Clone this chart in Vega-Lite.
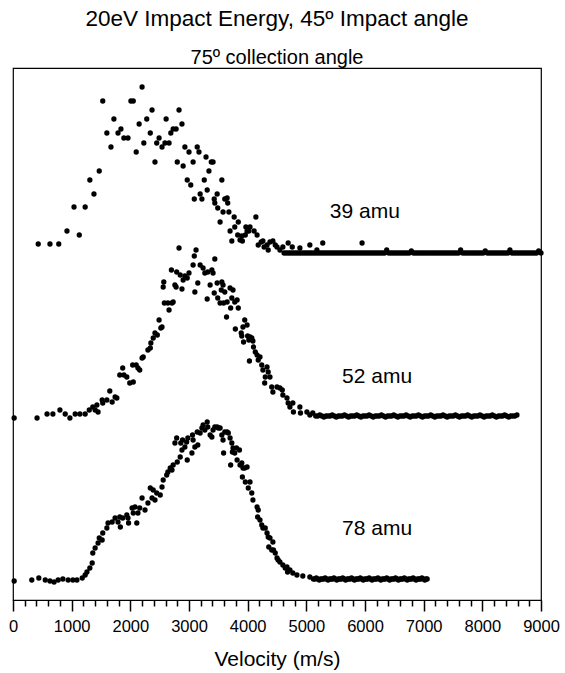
{
"$schema":"https://vega.github.io/schema/vega-lite/v6.json",
"width":528,"height":532,
"autosize":{"type":"none"},
"padding":{"left":13,"top":68,"right":24,"bottom":73},
"background":"white",
"config":{"view":{"stroke":"black","strokeWidth":1.2},"font":"Liberation Sans"},
"title":{"text":"20eV Impact Energy, 45º Impact angle","subtitle":"75º collection angle","font":"Liberation Sans","subtitleFont":"Liberation Sans","fontSize":22.5,"subtitleFontSize":20,"fontWeight":"normal","color":"black","subtitleColor":"black","anchor":"middle","offset":0,"subtitlePadding":18},
"datasets":{
"pts":[
{"m":39,"v":430,"s":356},{"m":39,"v":630,"s":356},{"m":39,"v":780,"s":356},{"m":39,"v":920,"s":369},{"m":39,"v":1040,"s":393},{"m":39,"v":1130,"s":365},{"m":39,"v":1230,"s":393},{"m":39,"v":1310,"s":420},{"m":39,"v":1380,"s":406},{"m":39,"v":1470,"s":429},{"m":39,"v":1530,"s":499},{"m":39,"v":1600,"s":467},{"m":39,"v":1670,"s":453},{"m":39,"v":1720,"s":481},{"m":39,"v":1790,"s":467},{"m":39,"v":1840,"s":471},{"m":39,"v":1890,"s":462},{"m":39,"v":1960,"s":462},{"m":39,"v":2010,"s":499},{"m":39,"v":2050,"s":499},{"m":39,"v":2100,"s":448},{"m":39,"v":2150,"s":476},{"m":39,"v":2200,"s":513},{"m":39,"v":2230,"s":457},{"m":39,"v":2280,"s":481},{"m":39,"v":2340,"s":467},{"m":39,"v":2370,"s":490},{"m":39,"v":2420,"s":438},{"m":39,"v":2450,"s":457},{"m":39,"v":2490,"s":462},{"m":39,"v":2540,"s":453},{"m":39,"v":2590,"s":457},{"m":39,"v":2610,"s":481},{"m":39,"v":2660,"s":457},{"m":39,"v":2690,"s":467},{"m":39,"v":2730,"s":471},{"m":39,"v":2780,"s":471},{"m":39,"v":2800,"s":438},{"m":39,"v":2830,"s":490},{"m":39,"v":2880,"s":476},{"m":39,"v":2900,"s":434},{"m":39,"v":2930,"s":453},{"m":39,"v":2970,"s":420},{"m":39,"v":3000,"s":448},{"m":39,"v":3030,"s":415},{"m":39,"v":3070,"s":438},{"m":39,"v":3090,"s":401},{"m":39,"v":3140,"s":453},{"m":39,"v":3170,"s":448},{"m":39,"v":3190,"s":406},{"m":39,"v":3220,"s":401},{"m":39,"v":3260,"s":420},{"m":39,"v":3290,"s":443},{"m":39,"v":3310,"s":410},{"m":39,"v":3340,"s":429},{"m":39,"v":3380,"s":438},{"m":39,"v":3410,"s":438},{"m":39,"v":3430,"s":401},{"m":39,"v":3440,"s":397},{"m":39,"v":3480,"s":406},{"m":39,"v":3490,"s":392},{"m":39,"v":3530,"s":378},{"m":39,"v":3560,"s":420},{"m":39,"v":3580,"s":388},{"m":39,"v":3610,"s":401},{"m":39,"v":3650,"s":402},{"m":39,"v":3660,"s":397},{"m":39,"v":3680,"s":388},{"m":39,"v":3700,"s":369},{"m":39,"v":3730,"s":359},{"m":39,"v":3770,"s":383},{"m":39,"v":3780,"s":373},{"m":39,"v":3830,"s":365},{"m":39,"v":3840,"s":378},{"m":39,"v":3870,"s":360},{"m":39,"v":3900,"s":364},{"m":39,"v":3910,"s":359},{"m":39,"v":3960,"s":365},{"m":39,"v":3970,"s":373},{"m":39,"v":3990,"s":369},{"m":39,"v":4020,"s":369},{"m":39,"v":4040,"s":373},{"m":39,"v":4110,"s":369},{"m":39,"v":4140,"s":383},{"m":39,"v":4160,"s":365},{"m":39,"v":4180,"s":355},{"m":39,"v":4230,"s":358},{"m":39,"v":4260,"s":359},{"m":39,"v":4280,"s":353},{"m":39,"v":4330,"s":355},{"m":39,"v":4350,"s":350},{"m":39,"v":4380,"s":358},{"m":39,"v":4430,"s":359},{"m":39,"v":4470,"s":355},{"m":39,"v":4500,"s":353},{"m":39,"v":4550,"s":350},{"m":39,"v":4600,"s":353},{"m":39,"v":4690,"s":357},{"m":39,"v":4760,"s":353},{"m":39,"v":4890,"s":352},{"m":39,"v":5060,"s":355},{"m":39,"v":5180,"s":350},{"m":39,"v":5280,"s":357},{"m":39,"v":5950,"s":357},
{"m":39,"v":4620,"s":347},{"m":39,"v":4655,"s":347},{"m":39,"v":4690,"s":347},{"m":39,"v":4725,"s":347},{"m":39,"v":4760,"s":347},{"m":39,"v":4795,"s":347},{"m":39,"v":4830,"s":347},{"m":39,"v":4865,"s":347},{"m":39,"v":4900,"s":347},{"m":39,"v":4935,"s":347},{"m":39,"v":4970,"s":347},{"m":39,"v":5005,"s":347},{"m":39,"v":5040,"s":347},{"m":39,"v":5075,"s":347},{"m":39,"v":5110,"s":347},{"m":39,"v":5145,"s":347},{"m":39,"v":5180,"s":347},{"m":39,"v":5215,"s":347},{"m":39,"v":5250,"s":347},{"m":39,"v":5285,"s":347},{"m":39,"v":5320,"s":347},{"m":39,"v":5355,"s":347},{"m":39,"v":5390,"s":347},{"m":39,"v":5425,"s":347},{"m":39,"v":5460,"s":347},{"m":39,"v":5495,"s":347},{"m":39,"v":5530,"s":347},{"m":39,"v":5565,"s":347},{"m":39,"v":5600,"s":347},{"m":39,"v":5635,"s":347},{"m":39,"v":5670,"s":347},{"m":39,"v":5705,"s":347},{"m":39,"v":5740,"s":347},{"m":39,"v":5775,"s":347},{"m":39,"v":5810,"s":347},{"m":39,"v":5845,"s":347},{"m":39,"v":5880,"s":347},{"m":39,"v":5915,"s":347},{"m":39,"v":5950,"s":347},{"m":39,"v":5985,"s":347},{"m":39,"v":6020,"s":347},{"m":39,"v":6055,"s":347},{"m":39,"v":6090,"s":347},{"m":39,"v":6125,"s":347},{"m":39,"v":6160,"s":347},{"m":39,"v":6195,"s":347},{"m":39,"v":6230,"s":347},{"m":39,"v":6265,"s":347},{"m":39,"v":6300,"s":347},{"m":39,"v":6335,"s":347},{"m":39,"v":6370,"s":350},{"m":39,"v":6405,"s":347},{"m":39,"v":6440,"s":347},{"m":39,"v":6475,"s":347},{"m":39,"v":6510,"s":347},{"m":39,"v":6545,"s":347},{"m":39,"v":6580,"s":347},{"m":39,"v":6615,"s":347},{"m":39,"v":6650,"s":347},{"m":39,"v":6685,"s":347},{"m":39,"v":6720,"s":347},{"m":39,"v":6755,"s":347},{"m":39,"v":6790,"s":349},{"m":39,"v":6825,"s":347},{"m":39,"v":6860,"s":347},{"m":39,"v":6895,"s":347},{"m":39,"v":6930,"s":347},{"m":39,"v":6965,"s":347},{"m":39,"v":7000,"s":347},{"m":39,"v":7035,"s":347},{"m":39,"v":7070,"s":347},{"m":39,"v":7105,"s":347},{"m":39,"v":7140,"s":347},{"m":39,"v":7175,"s":347},{"m":39,"v":7210,"s":347},{"m":39,"v":7245,"s":347},{"m":39,"v":7280,"s":347},{"m":39,"v":7315,"s":347},{"m":39,"v":7350,"s":347},{"m":39,"v":7385,"s":347},{"m":39,"v":7420,"s":347},{"m":39,"v":7455,"s":347},{"m":39,"v":7490,"s":347},{"m":39,"v":7525,"s":347},{"m":39,"v":7560,"s":347},{"m":39,"v":7595,"s":347},{"m":39,"v":7630,"s":350},{"m":39,"v":7665,"s":347},{"m":39,"v":7700,"s":347},{"m":39,"v":7735,"s":347},{"m":39,"v":7770,"s":347},{"m":39,"v":7805,"s":347},{"m":39,"v":7840,"s":347},{"m":39,"v":7875,"s":347},{"m":39,"v":7910,"s":347},{"m":39,"v":7945,"s":347},{"m":39,"v":7980,"s":347},{"m":39,"v":8015,"s":347},{"m":39,"v":8050,"s":349},{"m":39,"v":8085,"s":347},{"m":39,"v":8120,"s":347},{"m":39,"v":8155,"s":347},{"m":39,"v":8190,"s":347},{"m":39,"v":8225,"s":347},{"m":39,"v":8260,"s":347},{"m":39,"v":8295,"s":347},{"m":39,"v":8330,"s":347},{"m":39,"v":8365,"s":347},{"m":39,"v":8400,"s":347},{"m":39,"v":8435,"s":347},{"m":39,"v":8470,"s":350},{"m":39,"v":8505,"s":347},{"m":39,"v":8540,"s":347},{"m":39,"v":8575,"s":347},{"m":39,"v":8610,"s":347},{"m":39,"v":8645,"s":347},{"m":39,"v":8680,"s":347},{"m":39,"v":8715,"s":347},{"m":39,"v":8750,"s":347},{"m":39,"v":8785,"s":347},{"m":39,"v":8820,"s":347},{"m":39,"v":8855,"s":347},{"m":39,"v":8890,"s":347},{"m":39,"v":8925,"s":347},{"m":39,"v":8960,"s":349},{"m":39,"v":9000,"s":347},
{"m":52,"v":20,"s":182},{"m":52,"v":410,"s":182},{"m":52,"v":580,"s":186},{"m":52,"v":680,"s":186},{"m":52,"v":800,"s":190},{"m":52,"v":890,"s":186},{"m":52,"v":970,"s":182},{"m":52,"v":1060,"s":186},{"m":52,"v":1140,"s":186},{"m":52,"v":1230,"s":186},{"m":52,"v":1300,"s":190},{"m":52,"v":1360,"s":193},{"m":52,"v":1400,"s":190},{"m":52,"v":1430,"s":195},{"m":52,"v":1450,"s":188},{"m":52,"v":1520,"s":200},{"m":52,"v":1530,"s":197},{"m":52,"v":1600,"s":200},{"m":52,"v":1650,"s":209},{"m":52,"v":1690,"s":198},{"m":52,"v":1740,"s":203},{"m":52,"v":1770,"s":202},{"m":52,"v":1820,"s":225},{"m":52,"v":1870,"s":232},{"m":52,"v":1890,"s":225},{"m":52,"v":1940,"s":223},{"m":52,"v":1990,"s":217},{"m":52,"v":2050,"s":218},{"m":52,"v":2040,"s":235},{"m":52,"v":2100,"s":235},{"m":52,"v":2130,"s":232},{"m":52,"v":2160,"s":230},{"m":52,"v":2200,"s":242},{"m":52,"v":2220,"s":243},{"m":52,"v":2300,"s":250},{"m":52,"v":2340,"s":252},{"m":52,"v":2350,"s":257},{"m":52,"v":2390,"s":262},{"m":52,"v":2420,"s":267},{"m":52,"v":2460,"s":265},{"m":52,"v":2490,"s":280},{"m":52,"v":2520,"s":272},{"m":52,"v":2540,"s":273},{"m":52,"v":2560,"s":313},{"m":52,"v":2570,"s":318},{"m":52,"v":2580,"s":297},{"m":52,"v":2640,"s":297},{"m":52,"v":2660,"s":290},{"m":52,"v":2710,"s":297},{"m":52,"v":2730,"s":298},{"m":52,"v":2700,"s":330},{"m":52,"v":2760,"s":315},{"m":52,"v":2780,"s":313},{"m":52,"v":2790,"s":328},{"m":52,"v":2830,"s":352},{"m":52,"v":2850,"s":325},{"m":52,"v":2880,"s":311},{"m":52,"v":2900,"s":320},{"m":52,"v":2930,"s":324},{"m":52,"v":2970,"s":322},{"m":52,"v":3000,"s":327},{"m":52,"v":3070,"s":335},{"m":52,"v":3090,"s":344},{"m":52,"v":3100,"s":308},{"m":52,"v":3120,"s":350},{"m":52,"v":3150,"s":317},{"m":52,"v":3190,"s":335},{"m":52,"v":3240,"s":332},{"m":52,"v":3270,"s":327},{"m":52,"v":3310,"s":301},{"m":52,"v":3320,"s":328},{"m":52,"v":3360,"s":315},{"m":52,"v":3390,"s":330},{"m":52,"v":3410,"s":327},{"m":52,"v":3430,"s":307},{"m":52,"v":3440,"s":341},{"m":52,"v":3480,"s":317},{"m":52,"v":3490,"s":302},{"m":52,"v":3530,"s":297},{"m":52,"v":3550,"s":310},{"m":52,"v":3560,"s":318},{"m":52,"v":3580,"s":315},{"m":52,"v":3590,"s":297},{"m":52,"v":3610,"s":308},{"m":52,"v":3650,"s":298},{"m":52,"v":3640,"s":283},{"m":52,"v":3700,"s":312},{"m":52,"v":3710,"s":292},{"m":52,"v":3750,"s":310},{"m":52,"v":3730,"s":302},{"m":52,"v":3780,"s":298},{"m":52,"v":3790,"s":271},{"m":52,"v":3820,"s":300},{"m":52,"v":3840,"s":292},{"m":52,"v":3890,"s":267},{"m":52,"v":3920,"s":273},{"m":52,"v":3900,"s":264},{"m":52,"v":3930,"s":258},{"m":52,"v":3950,"s":280},{"m":52,"v":3990,"s":275},{"m":52,"v":4000,"s":264},{"m":52,"v":4020,"s":260},{"m":52,"v":4030,"s":239},{"m":52,"v":4040,"s":263},{"m":52,"v":4070,"s":262},{"m":52,"v":4090,"s":259},{"m":52,"v":4100,"s":253},{"m":52,"v":4130,"s":248},{"m":52,"v":4160,"s":245},{"m":52,"v":4180,"s":240},{"m":52,"v":4210,"s":243},{"m":52,"v":4240,"s":235},{"m":52,"v":4260,"s":230},{"m":52,"v":4300,"s":223},{"m":52,"v":4290,"s":217},{"m":52,"v":4330,"s":233},{"m":52,"v":4350,"s":228},{"m":52,"v":4380,"s":223},{"m":52,"v":4410,"s":213},{"m":52,"v":4430,"s":208},{"m":52,"v":4500,"s":213},{"m":52,"v":4550,"s":212},{"m":52,"v":4590,"s":210},{"m":52,"v":4600,"s":205},{"m":52,"v":4670,"s":202},{"m":52,"v":4690,"s":197},{"m":52,"v":4720,"s":193},{"m":52,"v":4770,"s":197},{"m":52,"v":4780,"s":188},{"m":52,"v":4890,"s":193},{"m":52,"v":4900,"s":187},{"m":52,"v":5010,"s":188},{"m":52,"v":5060,"s":185},{"m":52,"v":5110,"s":187},
{"m":52,"v":5160,"s":184},{"m":52,"v":5195,"s":184},{"m":52,"v":5230,"s":185},{"m":52,"v":5265,"s":184},{"m":52,"v":5300,"s":183},{"m":52,"v":5335,"s":184},{"m":52,"v":5370,"s":184},{"m":52,"v":5405,"s":184},{"m":52,"v":5440,"s":185},{"m":52,"v":5475,"s":184},{"m":52,"v":5510,"s":183},{"m":52,"v":5545,"s":184},{"m":52,"v":5580,"s":184},{"m":52,"v":5615,"s":184},{"m":52,"v":5650,"s":185},{"m":52,"v":5685,"s":184},{"m":52,"v":5720,"s":183},{"m":52,"v":5755,"s":184},{"m":52,"v":5790,"s":184},{"m":52,"v":5825,"s":184},{"m":52,"v":5860,"s":185},{"m":52,"v":5895,"s":184},{"m":52,"v":5930,"s":183},{"m":52,"v":5965,"s":184},{"m":52,"v":6000,"s":184},{"m":52,"v":6035,"s":184},{"m":52,"v":6070,"s":185},{"m":52,"v":6105,"s":184},{"m":52,"v":6140,"s":183},{"m":52,"v":6175,"s":184},{"m":52,"v":6210,"s":184},{"m":52,"v":6245,"s":184},{"m":52,"v":6280,"s":185},{"m":52,"v":6315,"s":184},{"m":52,"v":6350,"s":183},{"m":52,"v":6385,"s":184},{"m":52,"v":6420,"s":184},{"m":52,"v":6455,"s":184},{"m":52,"v":6490,"s":185},{"m":52,"v":6525,"s":184},{"m":52,"v":6560,"s":183},{"m":52,"v":6595,"s":184},{"m":52,"v":6630,"s":184},{"m":52,"v":6665,"s":184},{"m":52,"v":6700,"s":185},{"m":52,"v":6735,"s":184},{"m":52,"v":6770,"s":183},{"m":52,"v":6805,"s":184},{"m":52,"v":6840,"s":184},{"m":52,"v":6875,"s":184},{"m":52,"v":6910,"s":185},{"m":52,"v":6945,"s":184},{"m":52,"v":6980,"s":183},{"m":52,"v":7015,"s":184},{"m":52,"v":7050,"s":184},{"m":52,"v":7085,"s":184},{"m":52,"v":7120,"s":185},{"m":52,"v":7155,"s":184},{"m":52,"v":7190,"s":183},{"m":52,"v":7225,"s":184},{"m":52,"v":7260,"s":184},{"m":52,"v":7295,"s":184},{"m":52,"v":7330,"s":185},{"m":52,"v":7365,"s":184},{"m":52,"v":7400,"s":183},{"m":52,"v":7435,"s":184},{"m":52,"v":7470,"s":184},{"m":52,"v":7505,"s":184},{"m":52,"v":7540,"s":185},{"m":52,"v":7575,"s":184},{"m":52,"v":7610,"s":183},{"m":52,"v":7645,"s":184},{"m":52,"v":7680,"s":184},{"m":52,"v":7715,"s":184},{"m":52,"v":7750,"s":185},{"m":52,"v":7785,"s":184},{"m":52,"v":7820,"s":183},{"m":52,"v":7855,"s":184},{"m":52,"v":7890,"s":184},{"m":52,"v":7925,"s":184},{"m":52,"v":7960,"s":185},{"m":52,"v":7995,"s":184},{"m":52,"v":8030,"s":183},{"m":52,"v":8065,"s":184},{"m":52,"v":8100,"s":184},{"m":52,"v":8135,"s":184},{"m":52,"v":8170,"s":185},{"m":52,"v":8205,"s":184},{"m":52,"v":8240,"s":183},{"m":52,"v":8275,"s":184},{"m":52,"v":8310,"s":184},{"m":52,"v":8345,"s":184},{"m":52,"v":8380,"s":185},{"m":52,"v":8415,"s":184},{"m":52,"v":8450,"s":183},{"m":52,"v":8485,"s":184},{"m":52,"v":8520,"s":184},{"m":52,"v":8555,"s":184},{"m":52,"v":8590,"s":185},
{"m":78,"v":20,"s":19},{"m":78,"v":320,"s":20},{"m":78,"v":440,"s":22},{"m":78,"v":550,"s":20},{"m":78,"v":630,"s":19},{"m":78,"v":700,"s":18},{"m":78,"v":770,"s":20},{"m":78,"v":850,"s":21},{"m":78,"v":940,"s":20},{"m":78,"v":1020,"s":20},{"m":78,"v":1090,"s":20},{"m":78,"v":1180,"s":22},{"m":78,"v":1230,"s":25},{"m":78,"v":1260,"s":28},{"m":78,"v":1310,"s":32},{"m":78,"v":1350,"s":37},{"m":78,"v":1360,"s":47},{"m":78,"v":1400,"s":52},{"m":78,"v":1450,"s":57},{"m":78,"v":1470,"s":62},{"m":78,"v":1520,"s":60},{"m":78,"v":1530,"s":67},{"m":78,"v":1600,"s":72},{"m":78,"v":1620,"s":77},{"m":78,"v":1690,"s":78},{"m":78,"v":1740,"s":82},{"m":78,"v":1790,"s":78},{"m":78,"v":1820,"s":83},{"m":78,"v":1830,"s":73},{"m":78,"v":1870,"s":82},{"m":78,"v":1940,"s":85},{"m":78,"v":1960,"s":82},{"m":78,"v":1970,"s":77},{"m":78,"v":2030,"s":92},{"m":78,"v":2050,"s":87},{"m":78,"v":2080,"s":93},{"m":78,"v":2110,"s":77},{"m":78,"v":2130,"s":87},{"m":78,"v":2160,"s":92},{"m":78,"v":2200,"s":102},{"m":78,"v":2250,"s":90},{"m":78,"v":2300,"s":97},{"m":78,"v":2340,"s":112},{"m":78,"v":2370,"s":102},{"m":78,"v":2390,"s":110},{"m":78,"v":2420,"s":100},{"m":78,"v":2450,"s":107},{"m":78,"v":2510,"s":105},{"m":78,"v":2540,"s":113},{"m":78,"v":2560,"s":120},{"m":78,"v":2620,"s":125},{"m":78,"v":2640,"s":128},{"m":78,"v":2680,"s":132},{"m":78,"v":2710,"s":130},{"m":78,"v":2730,"s":135},{"m":78,"v":2760,"s":157},{"m":78,"v":2800,"s":138},{"m":78,"v":2790,"s":162},{"m":78,"v":2850,"s":143},{"m":78,"v":2860,"s":157},{"m":78,"v":2880,"s":150},{"m":78,"v":2890,"s":160},{"m":78,"v":2930,"s":153},{"m":78,"v":2970,"s":140},{"m":78,"v":2960,"s":158},{"m":78,"v":2980,"s":162},{"m":78,"v":3050,"s":147},{"m":78,"v":3060,"s":165},{"m":78,"v":3070,"s":160},{"m":78,"v":3100,"s":153},{"m":78,"v":3140,"s":168},{"m":78,"v":3150,"s":155},{"m":78,"v":3190,"s":167},{"m":78,"v":3220,"s":172},{"m":78,"v":3240,"s":175},{"m":78,"v":3270,"s":170},{"m":78,"v":3310,"s":178},{"m":78,"v":3320,"s":173},{"m":78,"v":3360,"s":165},{"m":78,"v":3390,"s":163},{"m":78,"v":3410,"s":170},{"m":78,"v":3440,"s":173},{"m":78,"v":3480,"s":173},{"m":78,"v":3500,"s":172},{"m":78,"v":3530,"s":172},{"m":78,"v":3560,"s":165},{"m":78,"v":3580,"s":160},{"m":78,"v":3590,"s":147},{"m":78,"v":3610,"s":168},{"m":78,"v":3650,"s":168},{"m":78,"v":3670,"s":167},{"m":78,"v":3700,"s":162},{"m":78,"v":3710,"s":135},{"m":78,"v":3730,"s":157},{"m":78,"v":3740,"s":148},{"m":78,"v":3750,"s":152},{"m":78,"v":3780,"s":147},{"m":78,"v":3820,"s":140},{"m":78,"v":3810,"s":152},{"m":78,"v":3870,"s":135},{"m":78,"v":3860,"s":150},{"m":78,"v":3900,"s":137},{"m":78,"v":3920,"s":132},{"m":78,"v":3950,"s":132},{"m":78,"v":3990,"s":133},{"m":78,"v":3910,"s":123},{"m":78,"v":3960,"s":118},{"m":78,"v":4010,"s":112},{"m":78,"v":4040,"s":118},{"m":78,"v":4070,"s":107},{"m":78,"v":4090,"s":100},{"m":78,"v":4160,"s":93},{"m":78,"v":4180,"s":90},{"m":78,"v":4170,"s":83},{"m":78,"v":4210,"s":80},{"m":78,"v":4240,"s":75},{"m":78,"v":4260,"s":72},{"m":78,"v":4300,"s":72},{"m":78,"v":4330,"s":67},{"m":78,"v":4350,"s":63},{"m":78,"v":4380,"s":62},{"m":78,"v":4360,"s":53},{"m":78,"v":4410,"s":50},{"m":78,"v":4430,"s":58},{"m":78,"v":4440,"s":50},{"m":78,"v":4470,"s":47},{"m":78,"v":4500,"s":42},{"m":78,"v":4520,"s":40},{"m":78,"v":4550,"s":38},{"m":78,"v":4600,"s":35},{"m":78,"v":4640,"s":32},{"m":78,"v":4670,"s":33},{"m":78,"v":4680,"s":28},{"m":78,"v":4720,"s":30},{"m":78,"v":4770,"s":27},{"m":78,"v":4840,"s":25},{"m":78,"v":4940,"s":24},{"m":78,"v":5060,"s":23},
{"m":78,"v":5120,"s":21},{"m":78,"v":5145,"s":21},{"m":78,"v":5170,"s":22},{"m":78,"v":5195,"s":21},{"m":78,"v":5220,"s":20},{"m":78,"v":5245,"s":21},{"m":78,"v":5270,"s":21},{"m":78,"v":5295,"s":21},{"m":78,"v":5320,"s":22},{"m":78,"v":5345,"s":21},{"m":78,"v":5370,"s":20},{"m":78,"v":5395,"s":21},{"m":78,"v":5420,"s":21},{"m":78,"v":5445,"s":21},{"m":78,"v":5470,"s":22},{"m":78,"v":5495,"s":21},{"m":78,"v":5520,"s":20},{"m":78,"v":5545,"s":21},{"m":78,"v":5570,"s":21},{"m":78,"v":5595,"s":21},{"m":78,"v":5620,"s":22},{"m":78,"v":5645,"s":21},{"m":78,"v":5670,"s":20},{"m":78,"v":5695,"s":21},{"m":78,"v":5720,"s":21},{"m":78,"v":5745,"s":21},{"m":78,"v":5770,"s":22},{"m":78,"v":5795,"s":21},{"m":78,"v":5820,"s":20},{"m":78,"v":5845,"s":21},{"m":78,"v":5870,"s":21},{"m":78,"v":5895,"s":21},{"m":78,"v":5920,"s":22},{"m":78,"v":5945,"s":21},{"m":78,"v":5970,"s":20},{"m":78,"v":5995,"s":21},{"m":78,"v":6020,"s":21},{"m":78,"v":6045,"s":21},{"m":78,"v":6070,"s":22},{"m":78,"v":6095,"s":21},{"m":78,"v":6120,"s":20},{"m":78,"v":6145,"s":21},{"m":78,"v":6170,"s":21},{"m":78,"v":6195,"s":21},{"m":78,"v":6220,"s":22},{"m":78,"v":6245,"s":21},{"m":78,"v":6270,"s":20},{"m":78,"v":6295,"s":21},{"m":78,"v":6320,"s":21},{"m":78,"v":6345,"s":21},{"m":78,"v":6370,"s":22},{"m":78,"v":6395,"s":21},{"m":78,"v":6420,"s":20},{"m":78,"v":6445,"s":21},{"m":78,"v":6470,"s":21},{"m":78,"v":6495,"s":21},{"m":78,"v":6520,"s":22},{"m":78,"v":6545,"s":21},{"m":78,"v":6570,"s":20},{"m":78,"v":6595,"s":21},{"m":78,"v":6620,"s":21},{"m":78,"v":6645,"s":21},{"m":78,"v":6670,"s":22},{"m":78,"v":6695,"s":21},{"m":78,"v":6720,"s":20},{"m":78,"v":6745,"s":21},{"m":78,"v":6770,"s":21},{"m":78,"v":6795,"s":21},{"m":78,"v":6820,"s":22},{"m":78,"v":6845,"s":21},{"m":78,"v":6870,"s":20},{"m":78,"v":6895,"s":21},{"m":78,"v":6920,"s":21},{"m":78,"v":6945,"s":21},{"m":78,"v":6970,"s":22},{"m":78,"v":6995,"s":21},{"m":78,"v":7020,"s":20},{"m":78,"v":7040,"s":21},{"m":78,"v":7060,"s":21}
],
"labels":[{"label":"39 amu","v":5400,"s":388},{"label":"52 amu","v":5610,"s":223},{"label":"78 amu","v":5610,"s":71}]
},
"layer":[
{"data":{"name":"pts"},
"mark":{"type":"circle","size":28,"color":"black","opacity":1},
"encoding":{
"x":{"field":"v","type":"quantitative","scale":{"domain":[0,9000],"nice":false,"zero":true},
"axis":{"values":[0,200,400,600,800,1000,1200,1400,1600,1800,2000,2200,2400,2600,2800,3000,3200,3400,3600,3800,4000,4200,4400,4600,4800,5000,5200,5400,5600,5800,6000,6200,6400,6600,6800,7000,7200,7400,7600,7800,8000,8200,8400,8600,8800,9000],
"tickCount":100,
"format":"d","labelExpr":"datum.value % 1000 === 0 ? datum.label : ''",
"tickSize":{"condition":{"test":"datum.value % 1000 === 0","value":11},"value":6},
"tickColor":"black","tickWidth":1.5,"domainColor":"black","domainWidth":1.2,"labelColor":"black","labelFontSize":16.5,"labelFont":"Liberation Sans","labelFlush":false,"labelOverlap":false,"labelPadding":7,
"title":"Velocity (m/s)","titleFontSize":21,"titleFontWeight":"normal","titleColor":"black","titleFont":"Liberation Sans","titlePadding":14,"grid":false}},
"y":{"field":"s","type":"quantitative","scale":{"domain":[0,532],"nice":false,"zero":false},"axis":null}}},
{"data":{"name":"labels"},
"mark":{"type":"text","align":"left","baseline":"middle","fontSize":21,"font":"Liberation Sans","color":"black"},
"encoding":{"x":{"field":"v","type":"quantitative"},"y":{"field":"s","type":"quantitative"},"text":{"field":"label"}}}
]
}
